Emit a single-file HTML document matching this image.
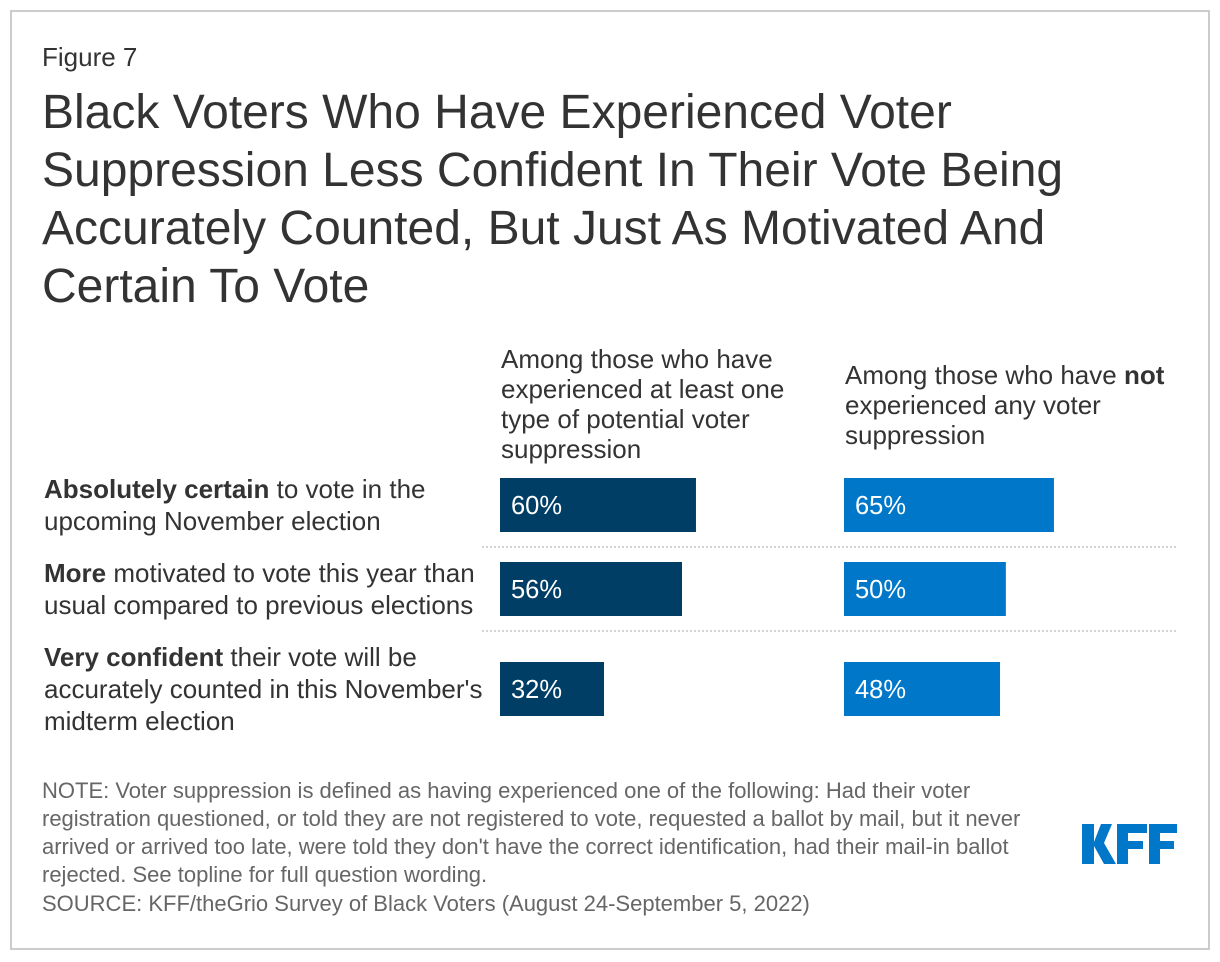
<!DOCTYPE html>
<html lang="en">
<head>
<meta charset="utf-8">
<title>KFF Figure 7</title>
<style>
html,body{margin:0;padding:0;background:#fff;width:1220px;height:962px;overflow:hidden}
svg{display:block;font-family:"Liberation Sans",Arial,sans-serif}
.t{fill:#333;font-size:48px}
.h{fill:#333;font-size:26px}
.l{fill:#333;font-size:26px}
.n{fill:#666;font-size:22px}
.v{fill:#fff;font-size:25.5px}
b,.b{font-weight:700}
</style>
</head>
<body>
<svg id="chart" width="1220" height="962" viewBox="0 0 1220 962" xmlns="http://www.w3.org/2000/svg">
  <rect x="11" y="11" width="1198" height="938" fill="#fff" stroke="#ccc" stroke-width="2"/>
  <text x="42" y="66" style="fill:#333;font-size:26px">Figure 7</text>
  <g class="t">
    <text x="42" y="128">Black Voters Who Have Experienced Voter</text>
    <text x="42" y="186">Suppression Less Confident In Their Vote Being</text>
    <text x="42" y="244">Accurately Counted, But Just As Motivated And</text>
    <text x="42" y="302">Certain To Vote</text>
  </g>
  <g class="h">
    <text x="501" y="368">Among those who have</text>
    <text x="501" y="398">experienced at least one</text>
    <text x="501" y="428">type of potential voter</text>
    <text x="501" y="458">suppression</text>
  </g>
  <g class="h">
    <text x="845" y="384">Among those who have <tspan class="b">not</tspan></text>
    <text x="845" y="414">experienced any voter</text>
    <text x="845" y="444">suppression</text>
  </g>
  <g class="l">
    <text x="44" y="498"><tspan class="b">Absolutely certain</tspan> to vote in the</text>
    <text x="44" y="530">upcoming November election</text>
  </g>
  <g class="l">
    <text x="44" y="582"><tspan class="b">More</tspan> motivated to vote this year than</text>
    <text x="44" y="614">usual compared to previous elections</text>
  </g>
  <g class="l">
    <text x="44" y="666"><tspan class="b">Very confident</tspan> their vote will be</text>
    <text x="44" y="698">accurately counted in this November's</text>
    <text x="44" y="730">midterm election</text>
  </g>
  <line x1="482" y1="547" x2="1176" y2="547" stroke="#d4d4d4" stroke-width="2" stroke-dasharray="2 2"/>
  <line x1="482" y1="631" x2="1176" y2="631" stroke="#d4d4d4" stroke-width="2" stroke-dasharray="2 2"/>
  <g id="bars"></g>
  <g class="n">
    <text x="42" y="798">NOTE: Voter suppression is defined as having experienced one of the following: Had their voter</text>
    <text x="42" y="826">registration questioned, or told they are not registered to vote, requested a ballot by mail, but it never</text>
    <text x="42" y="854">arrived or arrived too late, were told they don't have the correct identification, had their mail-in ballot</text>
    <text x="42" y="882">rejected. See topline for full question wording.</text>
    <text x="42" y="911">SOURCE: KFF/theGrio Survey of Black Voters (August 24-September 5, 2022)</text>
  </g>
  <g fill="#0077c8">
    <polygon points="1082,824 1094,824 1094,842 1101,824 1112,824 1104,843 1116,864 1104,864 1094,846 1094,864 1082,864"/>
    <polygon points="1117,824 1147,824 1147,833 1128,833 1128,841 1143,841 1143,849 1128,849 1128,864 1117,864"/>
    <polygon points="1149,824 1177,824 1177,833 1160,833 1160,841 1174,841 1174,849 1160,849 1160,864 1149,864"/>
  </g>
</svg>
<script>
const categories = ['certain', 'motivated', 'confident'];
const experienced = [60.3, 56, 32];
const notExperienced = [64.6, 49.8, 48];

const NS = 'http://www.w3.org/2000/svg';
const xScale = function (v) { return v * 3.25; };
const yScale = function (i) { return [478, 562, 662][i]; };
const barsGroup = document.getElementById('bars');

function drawSeries(values, x0, color, seriesName) {
  values.forEach(function (v, i) {
    const r = document.createElementNS(NS, 'rect');
    r.setAttribute('x', x0);
    r.setAttribute('y', yScale(i));
    r.setAttribute('width', xScale(v));
    r.setAttribute('height', 54);
    r.setAttribute('fill', color);
    
    
    barsGroup.appendChild(r);
    const t = document.createElementNS(NS, 'text');
    t.setAttribute('x', x0 + 11);
    t.setAttribute('y', yScale(i) + 36);
    t.setAttribute('class', 'v');
    t.textContent = Math.round(v) + '%';
    
    
    barsGroup.appendChild(t);
  });
}
drawSeries(experienced, 500, '#003e66', 'experienced');
drawSeries(notExperienced, 844, '#0077c8', 'not-experienced');
</script>
</body>
</html>
